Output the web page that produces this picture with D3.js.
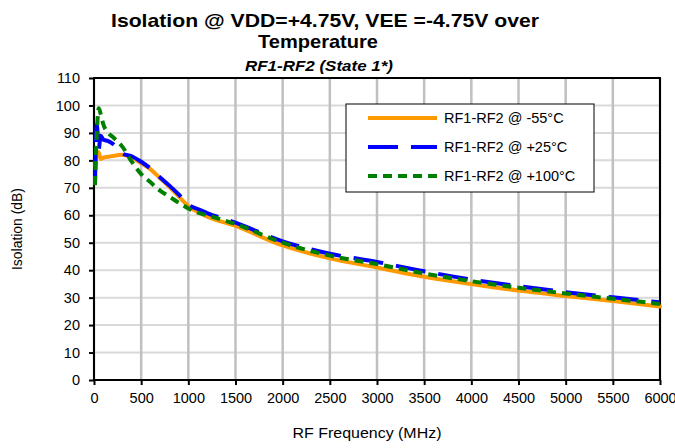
<!DOCTYPE html>
<html>
<head>
<meta charset="utf-8">
<script src="https://cdn.jsdelivr.net/npm/d3@7"></script>
<style>
  body { margin: 0; background: #fff; }
  svg { display: block; font-family: "Liberation Sans", Arial, sans-serif; }
</style>
</head>
<body>
<div id="chart"></div>
<script>
// frequencies in MHz
var freq = [10, 30, 50, 70, 100, 150, 200, 300, 400, 500, 600, 700, 800, 900, 1000, 1100, 1200, 1500, 2000, 2500, 3000, 3500, 4000, 4500, 5000, 5500, 6000];

// isolation in dB per temperature
var isoM55 = [78, 82, 83, 80.5, 81, 81.3, 81.6, 82, 81, 79, 76.7, 73.5, 70.3, 66.8, 63.3, 61.2, 59.5, 56.1, 49, 44.3, 41, 37.6, 35, 32.6, 30.6, 28.8, 26.8];
var isoP25 = [71, 93, 84, 89, 87.5, 87, 86, 82.5, 81.5, 79.5, 77, 73.8, 70.8, 67.5, 63.8, 62.3, 60.8, 57.3, 50.5, 46, 43, 39.6, 36.6, 34.2, 32, 30.1, 28.3];
var isoP100 = [71, 90, 99, 97, 93, 90, 88.5, 85, 79.5, 75, 72, 69, 66.8, 64.5, 62.5, 61, 60, 56.8, 50, 45.3, 42.2, 38.8, 36, 33.6, 31.5, 29.6, 27.7];

var seriesNames = ["RF1-RF2 @ -55\u00b0C", "RF1-RF2 @ +25\u00b0C", "RF1-RF2 @ +100\u00b0C"];
var xTicks = d3.range(0, 6001, 500);
var yTicks = d3.range(0, 111, 10);

window.onload = _ => {
	var W = 675, H = 448,
		margin = {left: 94, right: 15, top: 78, bottom: 68},
		w = W - margin.left - margin.right,
		h = H - margin.top - margin.bottom;

	var x = d3.scaleLinear().domain([0, 6000]).range([0, w]),
		y = d3.scaleLinear().domain([0, 110]).range([h, 0]);

	var series = [
		{name: seriesNames[0], values: isoM55, color: "#ff9900", dash: null},
		{name: seriesNames[1], values: isoP25, color: "#0000ff", dash: "30,13"},
		{name: seriesNames[2], values: isoP100, color: "#008000", dash: "9,6"}
	];

	var svg = d3.select("#chart").append("svg")
		.attr("width", W)
		.attr("height", H);

	svg.append("rect").attr("width", W).attr("height", H).attr("fill", "#fff");

	// titles
	svg.append("text").attr("x", 325).attr("y", 27).attr("text-anchor", "middle")
		.attr("textLength", 428).attr("lengthAdjust", "spacingAndGlyphs")
		.style("font-size", "19px").style("font-weight", "bold")
		.text("Isolation @ VDD=+4.75V, VEE =-4.75V over");
	svg.append("text").attr("x", 318).attr("y", 48).attr("text-anchor", "middle")
		.attr("textLength", 120).attr("lengthAdjust", "spacingAndGlyphs")
		.style("font-size", "19px").style("font-weight", "bold")
		.text("Temperature");
	svg.append("text").attr("x", 319).attr("y", 71).attr("text-anchor", "middle")
		.attr("textLength", 148).attr("lengthAdjust", "spacingAndGlyphs")
		.style("font-size", "15.5px").style("font-weight", "bold").style("font-style", "italic")
		.text("RF1-RF2 (State 1*)");

	var g = svg.append("g").attr("transform", "translate(" + margin.left + "," + margin.top + ")");

	// grid
	g.append("g").selectAll("line").data(yTicks).enter().append("line")
		.attr("x1", 0).attr("x2", w)
		.attr("y1", d => y(d)).attr("y2", d => y(d))
		.attr("stroke", "#d9d9d9").attr("stroke-width", 2);
	g.append("g").selectAll("line").data(xTicks).enter().append("line")
		.attr("x1", d => x(d)).attr("x2", d => x(d))
		.attr("y1", 0).attr("y2", h)
		.attr("stroke", "#c0c0c0").attr("stroke-width", 2.5);

	// axes
	var xAxis = g.append("g").attr("transform", "translate(0," + h + ")")
		.call(d3.axisBottom(x).tickValues(xTicks).tickSize(5).tickPadding(8).tickFormat(d3.format("d")));
	var yAxis = g.append("g")
		.call(d3.axisLeft(y).tickValues(yTicks).tickSize(5).tickPadding(9));
	[xAxis, yAxis].forEach(a => {
		a.select(".domain").remove();
		a.selectAll(".tick line").attr("stroke", "#000").attr("stroke-width", 2);
		a.selectAll(".tick text").style("font-size", "14.5px").style("font-family", "Liberation Sans, Arial, sans-serif").attr("fill", "#000");
	});

	// plot box
	g.append("rect").attr("width", w).attr("height", h)
		.attr("fill", "none").attr("stroke", "#000").attr("stroke-width", 2);

	// curves
	var line = d3.line()
		.x((d, i) => x(freq[i]))
		.y(d => y(d))
		.curve(d3.curveMonotoneX);

	series.forEach(s => {
		g.append("path")
			.attr("d", line(s.values))
			.attr("fill", "none")
			.attr("stroke", s.color)
			.attr("stroke-width", 4)
			.attr("stroke-dasharray", s.dash)
			.attr("stroke-linecap", s.dash ? "butt" : "round")
			.attr("stroke-linejoin", "round");
	});

	// legend
	var lg = svg.append("g").attr("transform", "translate(346,104)");
	lg.append("rect").attr("width", 248).attr("height", 88)
		.attr("fill", "#fff").attr("stroke", "#000").attr("stroke-width", 1);
	series.forEach((s, i) => {
		var ly = 14 + i * 29;
		lg.append("line").attr("x1", 22).attr("x2", 91).attr("y1", ly).attr("y2", ly)
			.attr("stroke", s.color).attr("stroke-width", 4)
			.attr("stroke-dasharray", s.dash);
		lg.append("text").attr("x", 98).attr("y", ly).attr("dy", "0.35em")
			.style("font-size", "14.5px").text(s.name);
	});

	// axis titles
	svg.append("text").attr("x", 367).attr("y", 438).attr("text-anchor", "middle")
		.attr("textLength", 149).attr("lengthAdjust", "spacingAndGlyphs")
		.style("font-size", "14px").text("RF Frequency (MHz)");
	svg.append("text").attr("transform", "translate(22,229) rotate(-90)")
		.attr("text-anchor", "middle")
		.attr("textLength", 82).attr("lengthAdjust", "spacingAndGlyphs")
		.style("font-size", "14px").text("Isolation (dB)");
}
</script>
</body>
</html>
